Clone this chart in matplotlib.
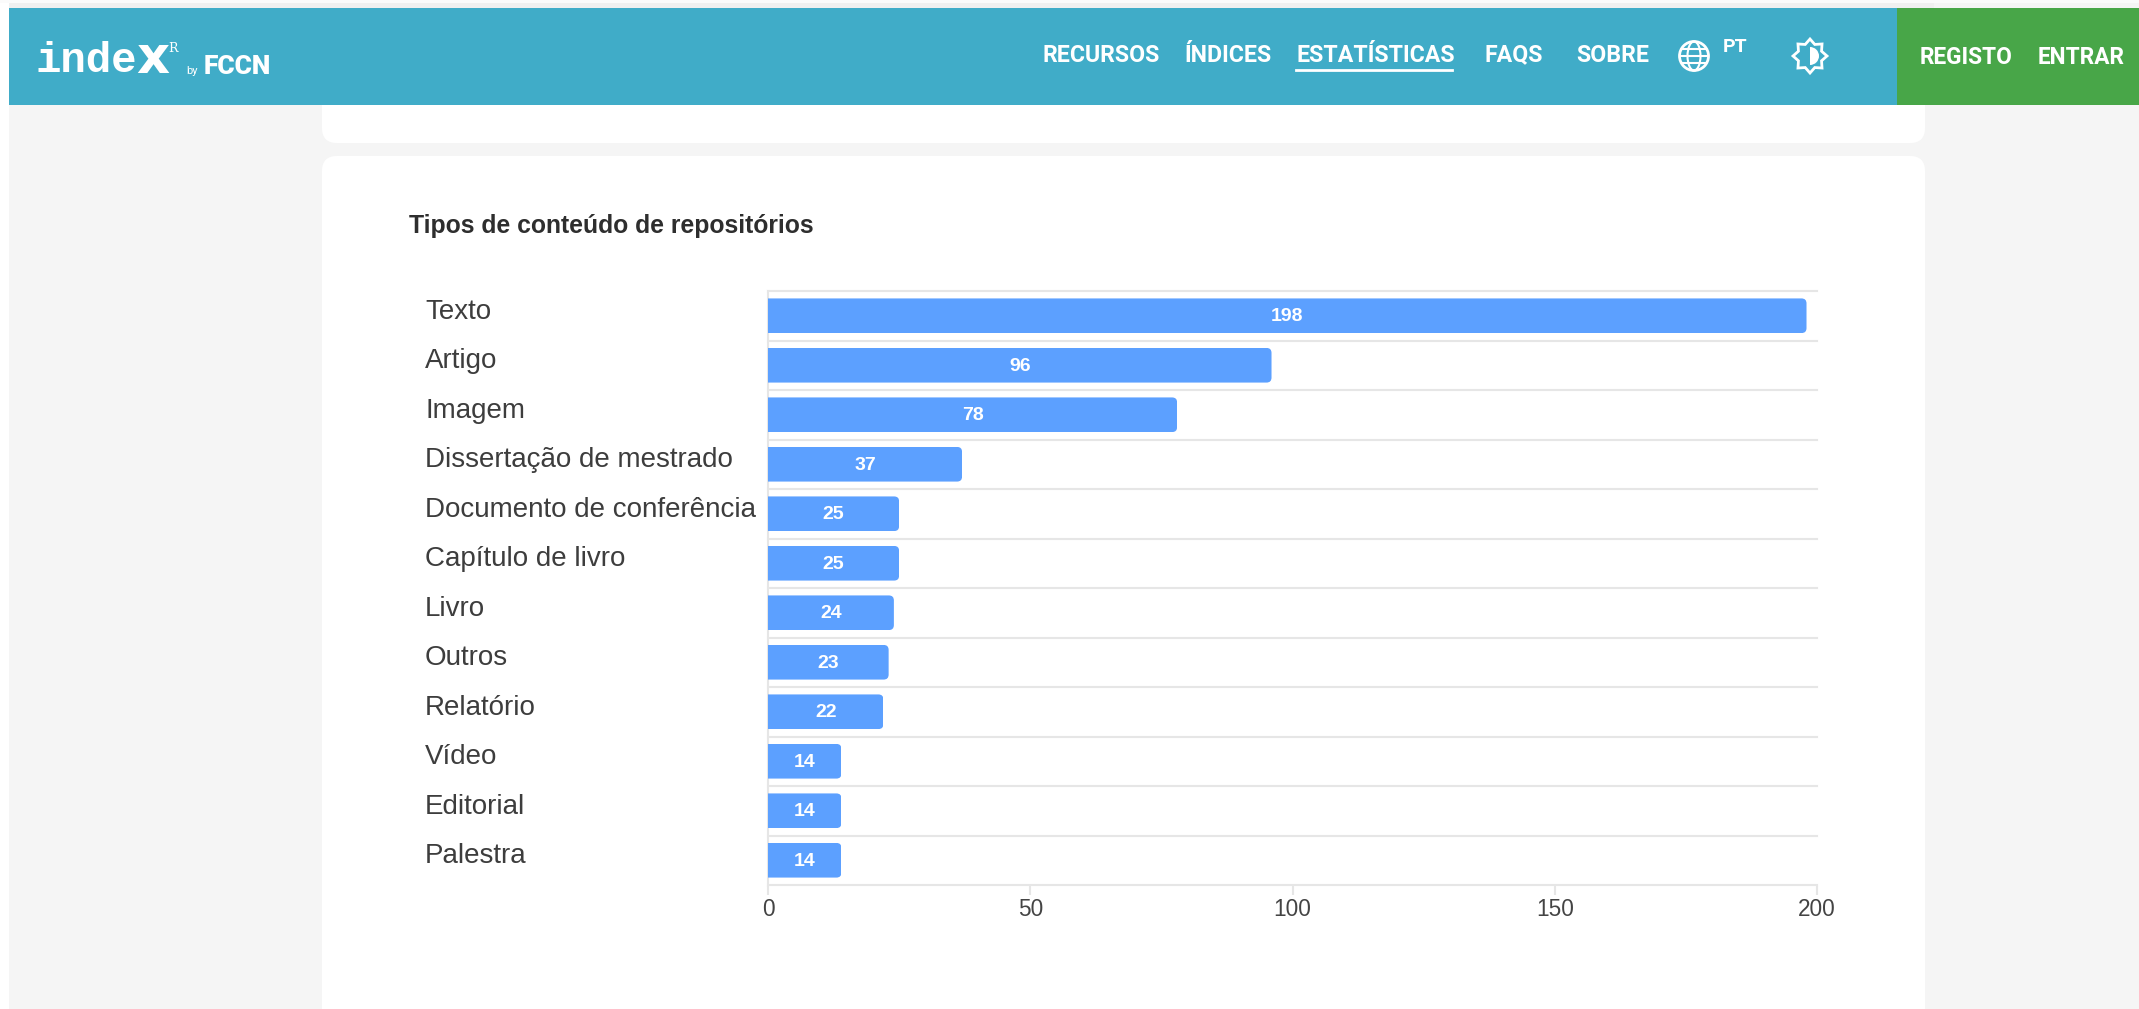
import matplotlib
matplotlib.use("Agg")
import matplotlib.pyplot as plt
from matplotlib.patches import Rectangle, FancyBboxPatch, Circle, Ellipse, Polygon, Wedge
import numpy as np

categorias = ['Texto', 'Artigo', 'Imagem', 'Dissertação de mestrado', 'Documento de conferência',
              'Capítulo de livro', 'Livro', 'Outros', 'Relatório', 'Vídeo', 'Editorial', 'Palestra']
valores = [198, 96, 78, 37, 25, 25, 24, 23, 22, 14, 14, 14]
ticks_x = [0, 50, 100, 150, 200]
titulo = 'Tipos de conteúdo de repositórios'
menu = ['RECURSOS', 'ÍNDICES', 'ESTATÍSTICAS', 'FAQS', 'SOBRE']
menu_x = [1042, 1184, 1296, 1485, 1576]

W, H = 2139, 1009
fig = plt.figure(figsize=(W / 100, H / 100), dpi=100, facecolor='#f5f5f5')

# fundo da pagina, em coordenadas de pixel
bg = fig.add_axes([0, 0, 1, 1])
bg.set_xlim(0, W)
bg.set_ylim(H, 0)
bg.axis('off')

bg.add_patch(Rectangle((0, 0), 9, H, fc='white', ec='none'))
bg.add_patch(Rectangle((0, 0), W, 3, fc='#fbfbfb', ec='none'))
bg.add_patch(Rectangle((9, 3), 1925, 5, fc='#f0f0f0', ec='none'))

# cartoes brancos
bg.add_patch(FancyBboxPatch((322, 60), 1603, 83, boxstyle='round,pad=0,rounding_size=15', fc='white', ec='none'))
bg.add_patch(FancyBboxPatch((322, 156), 1603, 900, boxstyle='round,pad=0,rounding_size=15', fc='white', ec='none'))

# barra de navegacao
bg.add_patch(Rectangle((9, 8), W - 9, 97, fc='#40acc8', ec='none'))
bg.add_patch(Rectangle((1897, 8), W - 1897, 97, fc='#48a648', ec='none'))

bg.text(35, 72, 'inde', family='Liberation Mono', fontweight='bold', fontsize=30.5, color='white', va='baseline', ha='left')
bg.text(136, 59, 'x', family='DejaVu Sans', fontweight='bold', fontsize=37, color='white', va='center', ha='left')
bg.text(173, 49, 'R', family='DejaVu Serif', fontsize=9, color='white', va='center', ha='center')
bg.text(192, 71, 'by', family='Roboto', fontsize=8, color='white', va='center', ha='center')
bg.text(204, 74, 'FCCN', family='Roboto', fontweight='black', fontsize=19, color='white', va='baseline', ha='left')

for nome, x_menu in zip(menu, menu_x):
    bg.text(x_menu, 55, nome, family='Roboto', fontweight='bold', fontsize=16.7, color='white', va='center', ha='left')
bg.plot([1296, 1452], [70, 70], color='white', lw=2)
bg.text(1735, 47, 'PT', family='Roboto', fontweight='bold', fontsize=14, color='white', va='center', ha='center')
bg.text(1920, 57, 'REGISTO', family='Roboto', fontweight='bold', fontsize=16.3, color='white', va='center', ha='left')
bg.text(2038, 57, 'ENTRAR', family='Roboto', fontweight='bold', fontsize=16.3, color='white', va='center', ha='left')

# icone do globo
bg.add_patch(Circle((1694, 56), 14.5, fc='none', ec='white', lw=2))
bg.add_patch(Ellipse((1694, 56), 13, 29, fc='none', ec='white', lw=1.5))
bg.plot([1680, 1708], [56, 56], color='white', lw=1.5)
bg.plot([1682, 1706], [49, 49], color='white', lw=1.5)
bg.plot([1682, 1706], [63, 63], color='white', lw=1.5)

# icone do tema
ang = np.arange(16) * np.pi / 8 - np.pi / 2
raio = np.where(np.arange(16) % 2 == 0, 17, 12.5)
bg.add_patch(Polygon(np.column_stack([1810 + raio * np.cos(ang), 56 + raio * np.sin(ang)]),
                     closed=True, fc='none', ec='white', lw=2))
bg.add_patch(Wedge((1810, 56), 9, -90, 90, fc='white', ec='none'))

bg.text(409, 226, titulo, family='Liberation Sans', fontweight='bold', fontsize=17.8, color='#2e2e2e', va='center', ha='left')

# grafico de barras
ax = fig.add_axes([768 / W, 1 - 885 / H, (1817 - 768) / W, (885 - 291) / H])
ax.set_facecolor('none')
pos = list(range(len(valores)))
barras = ax.barh(pos, valores, height=0.7, color='#5ca0ff', zorder=3)
ax.set_xlim(0, 200)
ax.set_ylim(len(valores) - 0.5, -0.5)

# cantos arredondados so do lado direito
px_x = (1817 - 768) / 200
px_y = (885 - 291) / 12
for barra in barras:
    caixa = FancyBboxPatch((-10, barra.get_y()), barra.get_width() + 10, barra.get_height(),
                           boxstyle='round,pad=0,rounding_size=%f' % (5 / px_x),
                           mutation_aspect=px_x / px_y, transform=ax.transData)
    barra.set_clip_path(caixa)

for spine in ax.spines.values():
    spine.set_visible(False)
ax.spines['left'].set_visible(True)
ax.spines['left'].set_color('#e6e6e6')
ax.spines['left'].set_linewidth(1.5)

for y_linha in [p - 0.5 for p in pos] + [len(valores) - 0.5]:
    ax.axhline(y_linha, color='#e6e6e6', lw=1.5, zorder=1, clip_on=False)

ax.set_xticks(ticks_x)
ax.set_xticklabels(ticks_x, family='Liberation Sans', fontsize=16.3, color='#444444')
ax.tick_params(axis='x', length=7, width=1.5, color='#e6e6e6', pad=2)
ax.set_yticks([])

for p, v, nome in zip(pos, valores, categorias):
    ax.annotate(str(v), xy=(v / 2, p), xytext=(0, -1), textcoords='offset pixels', color='white',
                family='Liberation Sans', fontweight='bold', fontsize=14, ha='center', va='center', zorder=4)
    ax.annotate(nome, xy=(0, p), xytext=(-343, -3), textcoords='offset pixels',
                family='Liberation Sans', fontsize=20, color='#3d3d3d', ha='left', va='baseline',
                annotation_clip=False)

fig.savefig('out.png', dpi=100, facecolor=fig.get_facecolor())
